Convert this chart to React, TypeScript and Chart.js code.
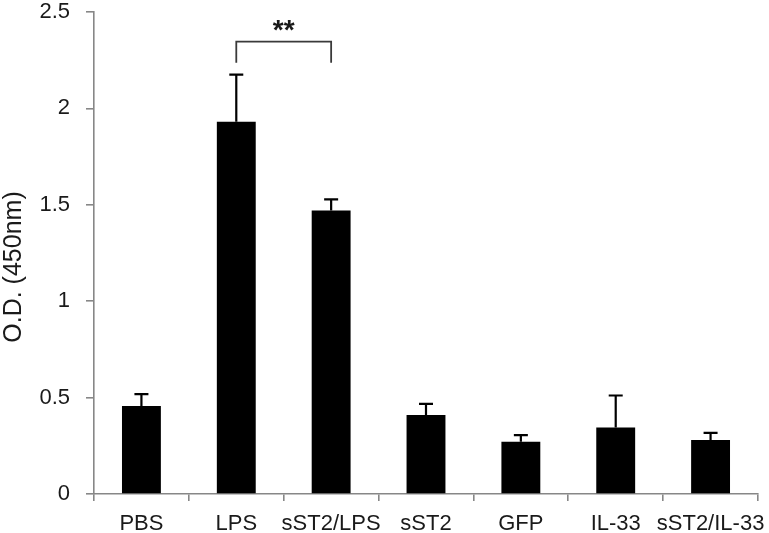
import React, { useEffect, useRef } from "react";
import { Chart, registerables } from "chart.js";

Chart.register(...registerables);

const categories = ["PBS", "LPS", "sST2/LPS", "sST2", "GFP", "IL-33", "sST2/IL-33"];
const means = [0.457, 1.931, 1.47, 0.41, 0.271, 0.345, 0.28];
const errors = [0.061, 0.244, 0.058, 0.057, 0.034, 0.166, 0.037];
const yTicks = [0, 0.5, 1, 1.5, 2, 2.5];
const yTitle = "O.D. (450nm)";
const bracketFrom = 1;
const bracketTo = 2;
const bracketTopValue = 2.346;
const bracketBottomValue = 2.237;
const bracketLabel = "**";

const FONT = "'Liberation Sans', Arial, Helvetica, sans-serif";
const TEXT = "#1a1a1a";
const AXIS = "#878787";

const overlayPlugin = {
  id: "errorBracket",
  afterDatasetsDraw(chart: any) {
    const ctx = chart.ctx;
    const x = chart.scales.x;
    const y = chart.scales.y;
    ctx.save();
    ctx.strokeStyle = "#000";
    ctx.lineWidth = 2.2;
    means.forEach((m, i) => {
      const cx = x.getPixelForValue(i);
      const y0 = y.getPixelForValue(m);
      const y1 = y.getPixelForValue(m + errors[i]);
      ctx.beginPath();
      ctx.moveTo(cx, y0);
      ctx.lineTo(cx, y1);
      ctx.moveTo(cx - 7, y1);
      ctx.lineTo(cx + 7, y1);
      ctx.stroke();
    });
    const xa = x.getPixelForValue(bracketFrom);
    const xb = x.getPixelForValue(bracketTo);
    const yt = y.getPixelForValue(bracketTopValue);
    const yb = y.getPixelForValue(bracketBottomValue);
    ctx.strokeStyle = "#3a3a3a";
    ctx.lineWidth = 1.8;
    ctx.beginPath();
    ctx.moveTo(xa, yb);
    ctx.lineTo(xa, yt);
    ctx.lineTo(xb, yt);
    ctx.lineTo(xb, yb);
    ctx.stroke();
    ctx.fillStyle = TEXT;
    ctx.font = "bold 28px " + FONT;
    ctx.textAlign = "center";
    ctx.textBaseline = "alphabetic";
    ctx.fillText(bracketLabel, (xa + xb) / 2, yt - 3);
    // y-axis title
    ctx.save();
    ctx.translate(14, (chart.chartArea.top + chart.chartArea.bottom) / 2 + 14);
    ctx.rotate(-Math.PI / 2);
    ctx.font = "25px " + FONT;
    ctx.textAlign = "center";
    ctx.textBaseline = "middle";
    ctx.fillText(yTitle, 0, 0);
    ctx.restore();
    ctx.restore();
  },
};

export default function App() {
  const ref = useRef<HTMLCanvasElement | null>(null);
  useEffect(() => {
    if (!ref.current) return;
    const chart = new Chart(ref.current, {
      type: "bar",
      data: {
        labels: categories,
        datasets: [
          {
            data: means,
            backgroundColor: "#000",
            borderWidth: 0,
            categoryPercentage: 1,
            barPercentage: 0.41,
          },
        ],
      },
      options: {
        animation: false,
        responsive: false,
        maintainAspectRatio: false,
        layout: { padding: { top: 12, right: 11, left: 0, bottom: 0 } },
        plugins: { legend: { display: false }, tooltip: { enabled: false } },
        scales: {
          x: {
            offset: true,
            grid: {
              offset: true,
              drawOnChartArea: false,
              drawTicks: true,
              tickLength: 7,
              color: AXIS,
              lineWidth: 1.6,
            },
            border: { color: AXIS, width: 1.6 },
            ticks: {
              color: TEXT,
              font: { family: FONT, size: 22 },
              padding: 10,
              maxRotation: 0,
              autoSkip: false,
            },
            afterFit(scale: any) {
              scale.height = 39;
              scale.paddingLeft = 0;
              scale.paddingRight = 0;
            },
          },
          y: {
            min: 0,
            max: 2.5,
            afterBuildTicks(scale: any) {
              scale.ticks = yTicks.map((v) => ({ value: v }));
            },
            grid: {
              drawOnChartArea: false,
              drawTicks: true,
              tickLength: 8,
              color: AXIS,
              lineWidth: 1.6,
            },
            border: { color: AXIS, width: 1.6 },
            ticks: {
              color: TEXT,
              font: { family: FONT, size: 22 },
              padding: 16,
              callback: (v: any) => String(v),
            },
            afterFit(scale: any) {
              scale.width = 94;
              scale.paddingTop = 0;
              scale.paddingBottom = 0;
            },
          },
        },
      },
      plugins: [overlayPlugin],
    });
    return () => chart.destroy();
  }, []);
  return (
    <div style={{ position: "fixed", left: 0, top: 0, width: 769, height: 533, background: "#fff" }}>
      <canvas ref={ref} width={769} height={533} style={{ width: 769, height: 533 }} />
    </div>
  );
}
